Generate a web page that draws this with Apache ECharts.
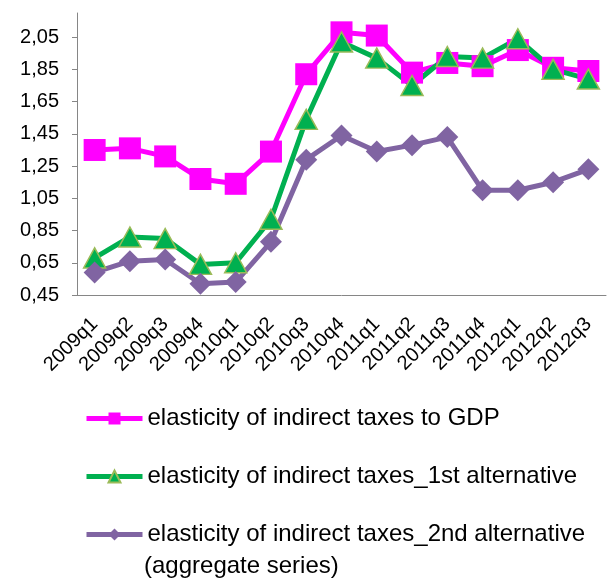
<!DOCTYPE html>
<html>
<head>
<meta charset="utf-8">
<script src="https://cdn.jsdelivr.net/npm/echarts@6/dist/echarts.min.js"></script>
<style>
  html, body { margin: 0; padding: 0; background: #fff; }
  #main { width: 613px; height: 585px; }
</style>
</head>
<body>
<div id="main"></div>
<script>
var quarters = ['2009q1', '2009q2', '2009q3', '2009q4', '2010q1', '2010q2', '2010q3', '2010q4',
    '2011q1', '2011q2', '2011q3', '2011q4', '2012q1', '2012q2', '2012q3'];

var gdpElasticity = [1.35, 1.36, 1.31, 1.17, 1.14, 1.34, 1.82, 2.08, 2.06, 1.83, 1.89, 1.87, 1.97, 1.86, 1.84];
var firstAlt = [0.68, 0.81, 0.80, 0.64, 0.65, 0.92, 1.54, 2.02, 1.92, 1.75, 1.93, 1.92, 2.04, 1.85, 1.79];
var secondAlt = [0.59, 0.66, 0.67, 0.52, 0.53, 0.78, 1.29, 1.44, 1.34, 1.38, 1.43, 1.10, 1.10, 1.15, 1.23];

var yMin = 0.45, yMax = 2.2, yStep = 0.2;

var names = [
    'elasticity of indirect taxes to GDP',
    'elasticity of indirect taxes_1st alternative',
    'elasticity of indirect taxes_2nd alternative'
];

var font = 'Liberation Sans, Arial, sans-serif';

var dom = document.getElementById('main');
var myChart = echarts.init(dom, null, { renderer: 'canvas' });

var option = {
    backgroundColor: '#fff',
    animation: false,
    grid: {
        left: 77,
        right: 7,
        top: 13,
        bottom: 290
    },
    legend: {
        orient: 'vertical',
        left: 84,
        top: 405,
        padding: 0,
        itemWidth: 56,
        itemHeight: 15,
        itemGap: 31,
        lineStyle: { width: 5 },
        textStyle: {
            fontFamily: font,
            fontSize: 24,
            lineHeight: 27,
            color: '#000'
        },
        data: names
    },
    // second line of the third legend entry
    graphic: [{
        type: 'text',
        left: 144,
        top: 554,
        style: {
            text: '(aggregate series)',
            font: '24px ' + font,
            fill: '#000'
        }
    }],
    xAxis: {
        type: 'category',
        data: quarters,
        boundaryGap: true,
        axisLine: { lineStyle: { color: '#868686', width: 1 } },
        axisTick: { length: 6, lineStyle: { color: '#868686' } },
        axisLabel: {
            rotate: 45,
            interval: 0,
            margin: 26,
            fontFamily: font,
            fontSize: 20,
            color: '#000'
        },
        splitLine: { show: false }
    },
    yAxis: {
        type: 'value',
        min: yMin,
        max: yMax,
        interval: yStep,
        axisLine: { show: true, lineStyle: { color: '#868686', width: 1 } },
        axisTick: { show: true, length: 5, lineStyle: { color: '#868686' } },
        axisLabel: {
            showMaxLabel: false,
            margin: 18,
            fontFamily: font,
            fontSize: 20,
            color: '#000',
            formatter: function (v) {
                return v.toFixed(2).replace('.', ',');
            }
        },
        splitLine: { show: false }
    },
    series: [
        {
            name: names[0],
            type: 'line',
            data: gdpElasticity,
            symbol: 'rect',
            symbolSize: 22,
            lineStyle: { color: '#ff00ff', width: 5 },
            itemStyle: { color: '#ff00ff' }
        },
        {
            name: names[1],
            type: 'line',
            data: firstAlt,
            symbol: 'triangle',
            symbolSize: [22, 20],
            lineStyle: { color: '#00b050', width: 5 },
            itemStyle: { color: '#00b050', borderColor: '#9bbb59', borderWidth: 1.5 }
        },
        {
            name: names[2],
            type: 'line',
            data: secondAlt,
            symbol: 'diamond',
            symbolSize: 22,
            lineStyle: { color: '#8064a2', width: 5 },
            itemStyle: { color: '#8064a2' }
        }
    ]
};

option && myChart.setOption(option);

window.addEventListener('resize', myChart.resize);
</script>
</body>
</html>
